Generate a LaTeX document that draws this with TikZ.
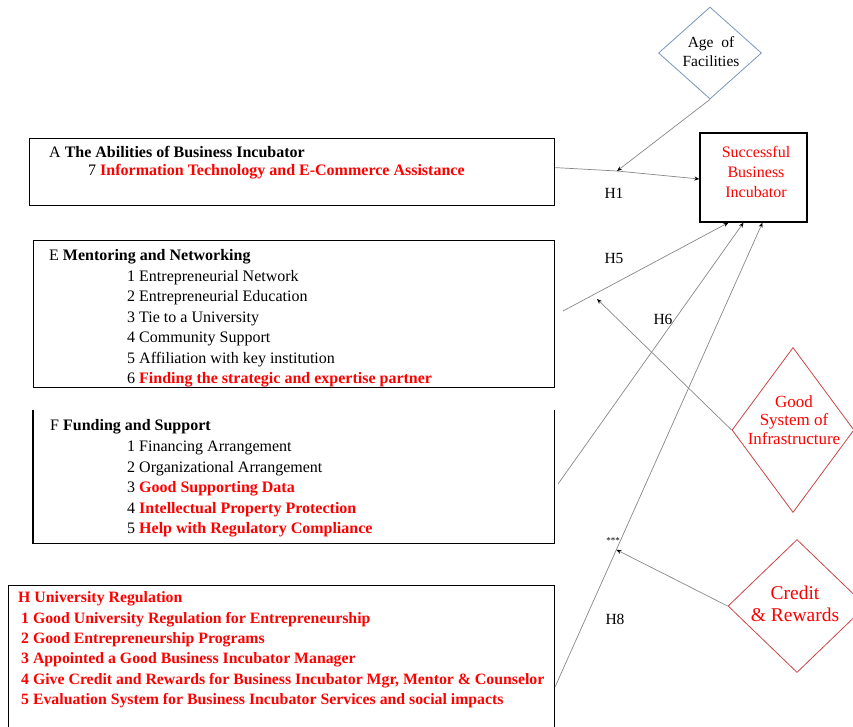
\documentclass[tikz,border=0pt]{standalone}
\usepackage{fontspec}
\setmainfont{Liberation Serif}
\usepackage{tikz}
\usetikzlibrary{
	shapes.geometric,
	arrows.meta,
	calc
	}

\definecolor{lineg}{RGB}{135,135,135}
\definecolor{dred}{RGB}{200,70,70}
\definecolor{dblue}{RGB}{120,150,185}

\newcommand{\hot}[1]{\textcolor{red}{\textbf{#1}}}

\tikzset{
	txt/.style={anchor=west, inner sep=0pt, font=\fontsize{16}{18}\selectfont},
	rtxt/.style={txt, text=red, font=\fontsize{15.8}{18}\selectfont\bfseries},
	frame/.style={line width=1.2pt},
	boxnode/.style={anchor=north west, inner sep=0pt},
	link/.style={draw=lineg, line width=0.7pt, -{Stealth[length=5pt,width=4pt,color=black]}},
	hlab/.style={inner sep=0pt, font=\fontsize{15.5}{18}\selectfont},
	factor/.style={diamond, draw=dred, line width=0.8pt, inner sep=0pt},
	factxt/.style={align=center, inner sep=0pt, text=red}
}

\begin{document}
\begin{tikzpicture}[x=1pt,y=-1pt]
	\clip (0,0) rectangle (853,726);

	% the four groups of factors
	\node[boxnode, draw, frame, minimum width=525pt, minimum height=67pt] (abil) at (29,138) {};
	\node[txt] (abilT) at (49,152) {A \textbf{The Abilities of Business Incubator}};
	\node[txt] (abil7) at (88,172) {7 \hot{Information Technology and E-Commerce Assistance}};

	\node[boxnode, draw, frame, minimum width=521pt, minimum height=147pt] (ment) at (33,240) {};
	\node[txt] (mentT) at (49,257) {E \textbf{Mentoring and Networking}};
	\foreach \i/\t in {1/Entrepreneurial Network,
	                   2/Entrepreneurial Education,
	                   3/Tie to a University,
	                   4/Community Support,
	                   5/Affiliation with key institution,
	                   6/\hot{Finding the strategic  and expertise partner}}
		\node[txt] (ment\i) at (127,{257+20.5*\i}) {\i\ \t};

	\node[boxnode, minimum width=521pt, minimum height=133pt] (fund) at (33,410) {};
	\draw[frame] (fund.north west) -- (fund.south west) -- (fund.south east) -- (fund.north east);
	\node[txt] (fundT) at (50,427) {F \textbf{Funding and Support}};
	\foreach \i/\t in {1/Financing Arrangement,
	                   2/Organizational Arrangement,
	                   3/\hot{Good Supporting Data},
	                   4/\hot{Intellectual Property Protection},
	                   5/\hot{Help with Regulatory Compliance}}
		\node[txt] (fund\i) at (127,{427+20.6*\i}) {\i\ \t};

	\node[boxnode, draw, frame, minimum width=546pt, minimum height=160pt] (univ) at (8,585) {};
	\node[rtxt] (univT) at (18,599) {H University Regulation};
	\foreach \i/\t in {1/Good University Regulation for Entrepreneurship,
	                   2/Good Entrepreneurship Programs,
	                   3/Appointed a Good Business Incubator Manager,
	                   4/{Give Credit and Rewards for Business Incubator Mgr, Mentor \&  Counselor},
	                   5/Evaluation System for Business Incubator Services and social impacts}
		\node[rtxt] (univ\i) at (21,{599+20.4*\i}) {\i\ \t};

	% outcome and moderators
	\node[draw, frame, minimum width=107pt, minimum height=89pt, inner sep=0pt] (succ) at (753.5,177.5) {};
	\node[factxt, font=\fontsize{16}{20}\selectfont] (succT) at (756,172) {Successful\\Business\\Incubator};

	\node[diamond, draw=dblue, line width=0.8pt, inner sep=0pt, minimum width=103pt, minimum height=92pt] (age) at (710,53) {};
	\node[align=center, inner sep=0pt, font=\fontsize{15.5}{19}\selectfont] (ageT) at (711,52) {Age\ \ of\\Facilities};

	\node[factor, minimum width=122pt, minimum height=165pt] (good) at (793,430) {};
	\node[factxt, font=\fontsize{17}{18.5}\selectfont] (goodT) at (794,420) {Good\\System of\\Infrastructure};

	\node[factor, minimum width=138pt, minimum height=133pt] (cred) at (797,606) {};
	\node[factxt, font=\fontsize{19.5}{22}\selectfont] (credT) at (795,604) {Credit\\\& Rewards};

	% connectors
	\coordinate (j1) at (617,171);
	\coordinate (e1) at (563,311);
	\coordinate (f1) at (558,484);
	\coordinate (h1) at ([yshift=-21pt]univ.east);
	\coordinate (j5) at (597,299);
	\coordinate (j8) at ($(h1)!0.295!([xshift=9pt]succ.south)$);

	\draw[draw=lineg, line width=0.7pt] ([yshift=4.5pt]abil.east) -- (j1);
	\draw[link] (j1) -- ([yshift=-1.5pt]succ.west);
	\draw[link] (age.south) -- (j1);
	\draw[link] (e1) -- ([xshift=-25pt]succ.south);
	\draw[link] (f1) -- ([xshift=-10pt]succ.south);
	\draw[link] (h1) -- ([xshift=9pt]succ.south);
	\draw[link] (good.west) -- (j5);
	\draw[link] (cred.west) -- (j8);

	\node[hlab] (hyp1) at (614,193) {H1};
	\node[hlab] (hyp5) at (614,258) {H5};
	\node[hlab] (hyp6) at (663,319) {H6};
	\node[hlab] (hyp8) at (615,619) {H8};
	\node[inner sep=0pt, font=\fontsize{9}{10}\selectfont] (sig8) at (613,541) {***};
\end{tikzpicture}
\end{document}
